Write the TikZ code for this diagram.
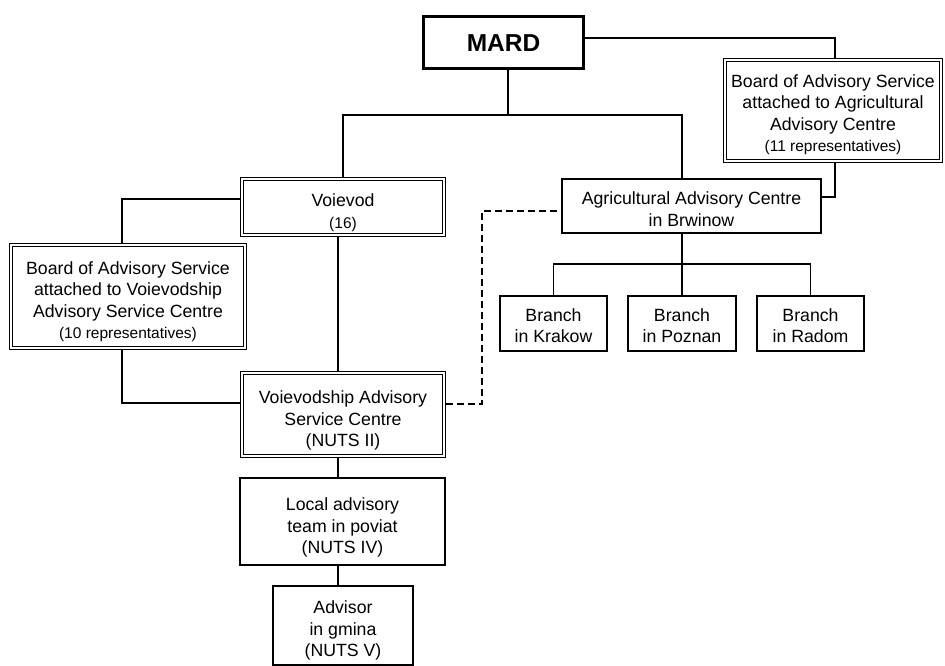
\documentclass[tikz,border=0pt]{standalone}
\usepackage{fontspec}
\setmainfont{Liberation Sans}
\newcommand\smtxt{\fontsize{15.5}{21.5}\selectfont}
\begin{document}
\begin{tikzpicture}[x=1pt,y=-1pt,
  box/.style={draw, line width=1.3pt, inner sep=0pt, outer sep=0.65pt},
  dbox/.style={box, double, line width=1.15pt, double distance=1.8pt, outer sep=2.05pt},
  txt/.style={inner sep=0pt, align=center, font=\fontsize{17.7}{21.5}\selectfont},
  conn/.style={line width=1.3pt},
  dconn/.style={conn, dash pattern=on 7pt off 4pt}]
\useasboundingbox (0,0) rectangle (945,666);
% boxes
\node[box, line width=3pt, outer sep=1.5pt, minimum width=160pt, minimum height=52pt,
  font=\fontsize{24.5}{28}\selectfont\bfseries] (mard) at (503.5,43) {MARD};
\node[dbox, minimum width=216pt, minimum height=101pt] (baac) at (833,110.5) {};
\node[dbox, minimum width=202pt, minimum height=56pt] (voi) at (343,207) {};
\node[dbox, minimum width=234pt, minimum height=103pt] (bvasc) at (128,296.5) {};
\node[dbox, minimum width=202pt, minimum height=83pt] (vasc) at (343,414.5) {};
\node[box, minimum width=259pt, minimum height=54pt] (aac) at (691.5,206) {};
\node[box, minimum width=107pt, minimum height=55pt] (kra) at (553.5,323.5) {};
\node[box, minimum width=108pt, minimum height=55pt] (poz) at (682,323.5) {};
\node[box, minimum width=107pt, minimum height=55pt] (rad) at (810.5,323.5) {};
\node[box, minimum width=205pt, minimum height=87pt] (loc) at (342.5,521.5) {};
\node[box, minimum width=140pt, minimum height=79pt] (adv) at (343,625.5) {};
% texts
\node[txt, yshift=-4pt] (baact) at (baac.center)
  {Board of Advisory Service\\attached to Agricultural\\Advisory Centre\\{\smtxt(11 representatives)}};
\node[txt, yshift=-5.5pt] (voit) at (voi.center) {Voievod\\{\smtxt(16)}};
\node[txt, yshift=-5pt] (bvasct) at (bvasc.center)
  {Board of Advisory Service\\attached to Voievodship\\Advisory Service Centre\\{\smtxt(10 representatives)}};
\node[txt, yshift=-6pt] (vasct) at (vasc.center) {Voievodship Advisory\\Service Centre\\(NUTS II)};
\node[txt, yshift=-3pt] (aact) at (aac.center) {Agricultural Advisory Centre\\in Brwinow};
\node[txt, yshift=-2pt] (krat) at (kra.center) {Branch\\in Krakow};
\node[txt, yshift=-2pt] (pozt) at (poz.center) {Branch\\in Poznan};
\node[txt, yshift=-2pt] (radt) at (rad.center) {Branch\\in Radom};
\node[txt, yshift=-6pt] (loct) at (loc.center) {Local advisory\\team in poviat\\(NUTS IV)};
\node[txt, yshift=-5pt] (advt) at (adv.center) {Advisor\\in gmina\\(NUTS V)};
% junction coordinates
\coordinate (jt) at (508,115);
\coordinate (ja) at (682,115);
\coordinate (jb) at (682,264);
\coordinate (jr) at (835,38);
\coordinate (jr2) at (835,197);
\coordinate (jl1) at (122,199);
\coordinate (jl2) at (122,403);
\coordinate (jc) at (338,0);
\coordinate (jd1) at (482,404);
\coordinate (jd2) at (482,211);
% connectors
\draw[conn] (mard.south -| jt) -- (jt);
\draw[conn] (voi.north) |- (ja) -- (ja |- aac.north);
\draw[conn] (jb |- aac.south) -- (poz.north);
\draw[conn] (kra.north) |- (jb) -| (rad.north);
\draw[conn] (mard.east |- jr) -- (jr) -- (jr |- baac.north);
\draw[conn] (jr |- baac.south) -- (jr2) -- (jr2 -| aac.east);
\draw[conn] (voi.west |- jl1) -- (jl1) -- (jl1 |- bvasc.north);
\draw[conn] (jl2 |- bvasc.south) -- (jl2) -- (jl2 -| vasc.west);
\draw[conn] (voi.south -| jc) -- (vasc.north -| jc);
\draw[conn] (vasc.south -| jc) -- (loc.north -| jc);
\draw[conn] (loc.south -| jc) -- (adv.north -| jc);
\draw[dconn] (vasc.east |- jd1) -- (jd1) -- (jd2) -- (jd2 -| aac.west);
\end{tikzpicture}
\end{document}
